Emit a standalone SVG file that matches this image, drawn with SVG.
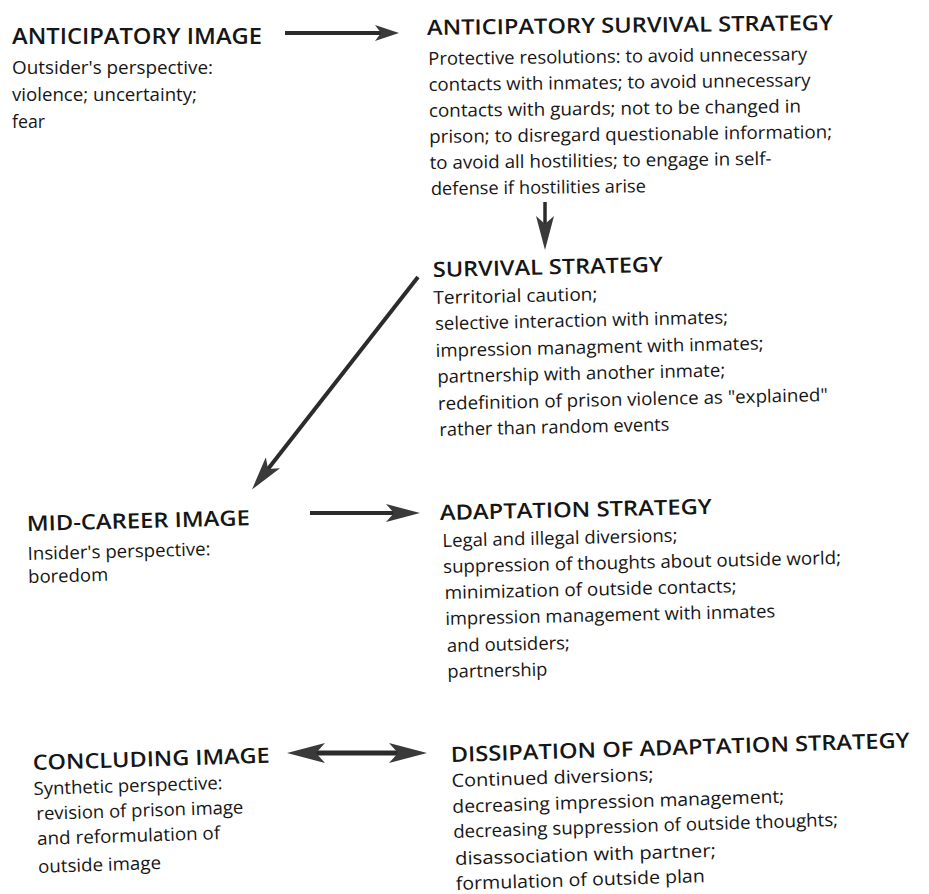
<svg xmlns="http://www.w3.org/2000/svg" width="929" height="894" viewBox="0 0 929 894">
<style>
text{font-family:"Open Sans","Liberation Sans",sans-serif;fill:#161616}
.t{font-size:21px;font-weight:600}
.b{font-size:18px;font-weight:400}
.c{stroke:#2b2b2b;fill:none}
</style>
<defs>
<marker id="ah" viewBox="0 0 24 16" refX="6" refY="8" markerWidth="24" markerHeight="16" markerUnits="userSpaceOnUse" orient="auto-start-reverse"><path d="M0,0 L24,8 L0,16 L6,8 z" fill="#3a3a3a"/></marker>
<marker id="al" viewBox="0 0 34 18" refX="8" refY="9" markerWidth="34" markerHeight="18" markerUnits="userSpaceOnUse" orient="auto-start-reverse"><path d="M0,0 L34,9 L0,18 L8,9 z" fill="#3a3a3a"/></marker>
<marker id="aw" viewBox="0 0 38 20" refX="9" refY="10" markerWidth="38" markerHeight="20" markerUnits="userSpaceOnUse" orient="auto-start-reverse"><path d="M0,0 L38,10 L0,20 L9,10 z" fill="#3a3a3a"/></marker>
</defs>
<rect width="929" height="894" fill="#fff"/>
<g id="anticipatory-image" transform="translate(12,44)">
<text class="t" x="0" y="0" textLength="250" lengthAdjust="spacingAndGlyphs">ANTICIPATORY IMAGE</text>
<text class="b" x="0" y="30" textLength="201" lengthAdjust="spacingAndGlyphs">Outsider's perspective:</text>
<text class="b" x="0" y="57" textLength="185" lengthAdjust="spacingAndGlyphs">violence; uncertainty;</text>
<text class="b" x="0" y="84" textLength="33" lengthAdjust="spacingAndGlyphs">fear</text>
</g>
<g id="anticipatory-survival-strategy" transform="translate(427,35) rotate(-0.7)">
<text class="t" x="0" y="0" textLength="406" lengthAdjust="spacingAndGlyphs">ANTICIPATORY  SURVIVAL STRATEGY</text>
<text class="b" x="1" y="30" textLength="379" lengthAdjust="spacingAndGlyphs">Protective resolutions: to avoid unnecessary</text>
<text class="b" x="1" y="56" textLength="382" lengthAdjust="spacingAndGlyphs">contacts with inmates; to avoid unnecessary</text>
<text class="b" x="1" y="82" textLength="372" lengthAdjust="spacingAndGlyphs">contacts with guards; not to be changed in</text>
<text class="b" x="1" y="108" textLength="403" lengthAdjust="spacingAndGlyphs">prison; to disregard questionable information;</text>
<text class="b" x="1" y="134" textLength="342" lengthAdjust="spacingAndGlyphs">to avoid all hostilities; to engage in self-</text>
<text class="b" x="2" y="160" textLength="215" lengthAdjust="spacingAndGlyphs">defense if hostilities arise</text>
</g>
<g id="survival-strategy" transform="translate(433,277) rotate(-1.3)">
<text class="t" x="0" y="0" textLength="230" lengthAdjust="spacingAndGlyphs">SURVIVAL STRATEGY</text>
<text class="b" x="0" y="27" textLength="164" lengthAdjust="spacingAndGlyphs">Territorial caution;</text>
<text class="b" x="1" y="53" textLength="293" lengthAdjust="spacingAndGlyphs">selective interaction with inmates;</text>
<text class="b" x="1" y="80" textLength="328" lengthAdjust="spacingAndGlyphs">impression managment with inmates;</text>
<text class="b" x="2" y="106" textLength="288" lengthAdjust="spacingAndGlyphs">partnership with another inmate;</text>
<text class="b" x="2" y="133" textLength="390" lengthAdjust="spacingAndGlyphs">redefinition of prison violence as "explained"</text>
<text class="b" x="3" y="159" textLength="230" lengthAdjust="spacingAndGlyphs">rather than random events</text>
</g>
<g id="mid-career-image" transform="translate(27,531) rotate(-1.5)">
<text class="t" x="0" y="0" textLength="223" lengthAdjust="spacingAndGlyphs">MID-CAREER IMAGE</text>
<text class="b" x="0" y="29" textLength="183" lengthAdjust="spacingAndGlyphs">Insider's perspective:</text>
<text class="b" x="0" y="52" textLength="80" lengthAdjust="spacingAndGlyphs">boredom</text>
</g>
<g id="adaptation-strategy" transform="translate(440,520) rotate(-1.3)">
<text class="t" x="0" y="0" textLength="272" lengthAdjust="spacingAndGlyphs">ADAPTATION STRATEGY</text>
<text class="b" x="2" y="27" textLength="235" lengthAdjust="spacingAndGlyphs">Legal and illegal diversions;</text>
<text class="b" x="2" y="53" textLength="398" lengthAdjust="spacingAndGlyphs">suppression of thoughts about outside world;</text>
<text class="b" x="3" y="79" textLength="292" lengthAdjust="spacingAndGlyphs">minimization of outside contacts;</text>
<text class="b" x="3" y="105" textLength="330" lengthAdjust="spacingAndGlyphs">impression management with inmates</text>
<text class="b" x="4" y="132" textLength="123" lengthAdjust="spacingAndGlyphs">and outsiders;</text>
<text class="b" x="4" y="158" textLength="100" lengthAdjust="spacingAndGlyphs">partnership</text>
</g>
<g id="concluding-image" transform="translate(33,770) rotate(-1.8)">
<text class="t" x="0" y="0" textLength="237" lengthAdjust="spacingAndGlyphs">CONCLUDING IMAGE</text>
<text class="b" x="0" y="25" textLength="189" lengthAdjust="spacingAndGlyphs">Synthetic perspective:</text>
<text class="b" x="2" y="50" textLength="207" lengthAdjust="spacingAndGlyphs">revision of prison image</text>
<text class="b" x="2" y="75" textLength="183" lengthAdjust="spacingAndGlyphs">and reformulation of</text>
<text class="b" x="2" y="103" textLength="123" lengthAdjust="spacingAndGlyphs">outside image</text>
</g>
<g id="dissipation-of-adaptation-strategy" transform="translate(451,762) rotate(-1.8)">
<text class="t" x="0" y="0" textLength="459" lengthAdjust="spacingAndGlyphs">DISSIPATION OF ADAPTATION STRATEGY</text>
<text class="b" x="0" y="25" textLength="202" lengthAdjust="spacingAndGlyphs">Continued diversions;</text>
<text class="b" x="0" y="51" textLength="332" lengthAdjust="spacingAndGlyphs">decreasing impression management;</text>
<text class="b" x="0" y="76" textLength="385" lengthAdjust="spacingAndGlyphs">decreasing suppression of outside thoughts;</text>
<text class="b" x="1" y="103" textLength="261" lengthAdjust="spacingAndGlyphs">disassociation with partner;</text>
<text class="b" x="1" y="128" textLength="249" lengthAdjust="spacingAndGlyphs">formulation of outside plan</text>
</g>
<g id="connectors">
<path class="c" d="M285,33 L381,33" stroke-width="4" marker-end="url(#ah)"/>
<path class="c" d="M545,202 L545,224" stroke-width="3.5" marker-end="url(#al)"/>
<path class="c" d="M418,277 L268,469" stroke-width="4" marker-end="url(#al)"/>
<path class="c" d="M310,513 L394,513" stroke-width="4" marker-end="url(#al)"/>
<path class="c" d="M316,753 L398,753" stroke-width="5" marker-start="url(#aw)" marker-end="url(#aw)"/>
</g>
</svg>
